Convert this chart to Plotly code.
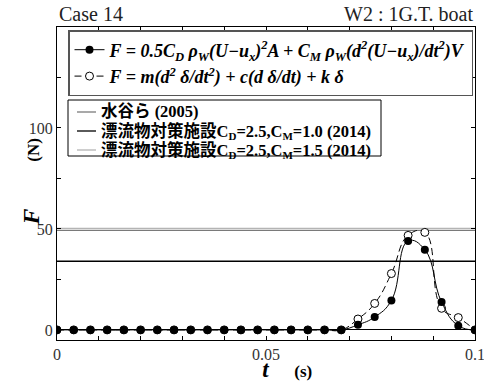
import plotly.graph_objects as go

t = [round(0.004 * i, 3) for i in range(26)]
F_morison = [0]*18 + [2.5, 6.4, 14.6, 44.0, 39.7, 13.8, 2.1, 0]
F_spring = [0]*18 + [5.4, 13.1, 27.9, 46.8, 48.3, 10.7, 6.1, 0]

ref_names = ["水谷ら (2005)",
             "漂流物対策施設C{D}=2.5,C{M}=1.0 (2014)",
             "漂流物対策施設C{D}=2.5,C{M}=1.5 (2014)"]
ref_values = [49.3, 34.0, 50.3]
ref_colors = ["#7a7a7a", "#000000", "#b4b4b4"]

x_tickvals = [0, 0.01, 0.02, 0.03, 0.04, 0.05, 0.06, 0.07, 0.08, 0.09, 0.1]
x_ticktext = ["0", "", "", "", "", "0.05", "", "", "", "", "0.1"]
y_tickvals = [0, 25, 50, 75, 100, 125]
y_ticktext = ["0", "", "50", "", "100", ""]

serif = "Liberation Serif, Noto Sans CJK JP"
nb = "&nbsp;"
sub_open = "<span style='font-size:11px;baseline-shift:-3px'>"

# plot area in pixels (for placing the second legend box)
L, R, T, B = 57, 475, 27, 340
def px(x):
    return (x - L) / (R - L)
def py(y):
    return (B - y) / (B - T)

fig = go.Figure()

for name, v, c in zip(ref_names, ref_values, ref_colors):
    fig.add_trace(go.Scatter(x=[t[0], t[-1]], y=[v, v], mode="lines",
                             line=dict(color=c, width=1.3),
                             name=name, showlegend=False))

fig.add_trace(go.Scatter(
    x=t, y=F_spring, mode="lines+markers",
    line=dict(color="black", width=1, dash="7px,4px", shape="spline", smoothing=1.3),
    marker=dict(symbol="circle", size=8, color="white", line=dict(color="black", width=1)),
    name="<b><i>F = m(d<sup>2</sup> δ/dt<sup>2</sup>) + c(d δ/dt) + k δ</i></b>"))

fig.add_trace(go.Scatter(
    x=t, y=F_morison, mode="lines+markers",
    line=dict(color="black", width=1, shape="spline", smoothing=1.3),
    marker=dict(symbol="circle", size=8, color="black"),
    name="<b><i>F = 0.5C<sub>D</sub> ρ<sub>W</sub>(U−u<sub>x</sub>)<sup>2</sup>A + C<sub>M</sub> ρ<sub>W</sub>(d<sup>2</sup>(U−u<sub>x</sub>)/dt<sup>2</sup>)V</i></b>"))

# second legend (reference design values), drawn as a framed key
shapes = [dict(type="rect", xref="paper", yref="paper",
               x0=px(68), x1=px(381), y0=py(156), y1=py(100),
               line=dict(color="black", width=1), fillcolor="white", layer="above")]
annotations = []
for i, (name, c) in enumerate(zip(ref_names, ref_colors)):
    yy = 112 + 19 * i
    shapes.append(dict(type="line", xref="paper", yref="paper",
                       x0=px(77), x1=px(96), y0=py(yy), y1=py(yy),
                       line=dict(color=c, width=1.3), layer="above"))
    label = name.replace("{", sub_open).replace("}", "</span>")
    annotations.append(dict(text="<b>" + label + "</b>", x=px(99), y=py(yy),
                            xref="paper", yref="paper", xanchor="left", yanchor="middle",
                            showarrow=False, font=dict(family=serif, size=16.5, color="black")))

annotations += [
    dict(text="Case 14", x=0, y=1, xref="paper", yref="paper",
         xanchor="left", yanchor="bottom", showarrow=False,
         font=dict(family=serif, size=20, color="#222")),
    dict(text="W2 : 1G.T. boat", x=1, y=1, xref="paper", yref="paper",
         xanchor="right", yanchor="bottom", showarrow=False,
         font=dict(family=serif, size=20, color="#222")),
    dict(text="<b><i><span style='font-size:24px'>F</span></i>" + nb * 11 + "(N)</b>",
         x=0, y=0.5, xref="paper", yref="paper", textangle=-90,
         xanchor="center", yanchor="middle", xshift=-27, yshift=1, showarrow=False,
         font=dict(family=serif, size=17, color="black")),
]

fig.update_layout(
    width=484, height=382,
    margin=dict(l=L, r=484 - R, t=T, b=382 - B),
    paper_bgcolor="white", plot_bgcolor="white",
    font=dict(family=serif, size=14, color="#222"),
    showlegend=True,
    legend=dict(x=px(68), y=py(30), xanchor="left", yanchor="top",
                bordercolor="#555", borderwidth=1.5, bgcolor="white",
                font=dict(family=serif, size=18, color="black"),
                traceorder="reversed", itemwidth=30, tracegroupgap=0),
    xaxis=dict(range=[0, 0.1], tickvals=x_tickvals, ticktext=x_ticktext,
               ticks="inside", ticklen=4, tickcolor="black", automargin=False,
               ticklabeloverflow="allow",
               showline=True, linecolor="black", linewidth=1, mirror="ticks",
               showgrid=False, zeroline=False,
               tickfont=dict(family=serif, size=16, color="#333"),
               title=dict(text=nb * 10 + "<b><i><span style='font-size:23px'>t</span></i>" + nb * 6 + "(s)</b>",
                          font=dict(family=serif, size=17, color="black"))),
    yaxis=dict(range=[-5, 150], tickvals=y_tickvals, ticktext=y_ticktext,
               ticks="inside", ticklen=4, tickcolor="black", automargin=False,
               showline=True, linecolor="black", linewidth=1, mirror="ticks",
               showgrid=False, zeroline=True, zerolinecolor="black", zerolinewidth=1,
               tickfont=dict(family=serif, size=16, color="#333")),
    shapes=shapes,
    annotations=annotations,
)

fig.write_html("out.html", post_script="document.body.style.margin='0';",
               config={"displayModeBar": False})
